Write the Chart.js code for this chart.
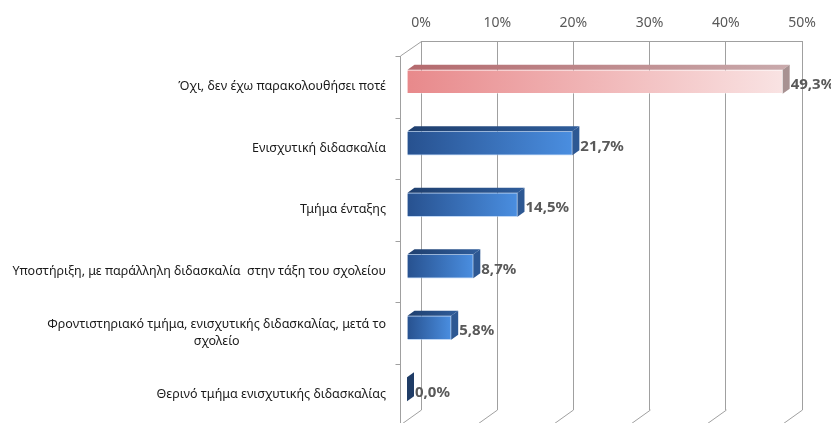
<!DOCTYPE html>
<html>
<head>
<meta charset="utf-8">
<script src="https://cdn.jsdelivr.net/npm/chart.js@4"></script>
<style>
  html, body { margin: 0; padding: 0; background: #fff; overflow: hidden; }
</style>
</head>
<body>
<canvas id="chart" width="831" height="423"></canvas>
<script>
// Κατηγορίες (από πάνω προς τα κάτω) και ποσοστά
const categories = [
  'Όχι, δεν έχω παρακολουθήσει ποτέ',
  'Ενισχυτική διδασκαλία',
  'Τμήμα ένταξης',
  'Υποστήριξη, με παράλληλη διδασκαλία  στην τάξη του σχολείου',
  ['Φροντιστηριακό τμήμα, ενισχυτικής διδασκαλίας, μετά το', 'σχολείο'],
  'Θερινό τμήμα ενισχυτικής διδασκαλίας'
];
const percentages = [49.3, 21.7, 14.5, 8.7, 5.8, 0.0];
const axisTicks = [0, 10, 20, 30, 40, 50];

// offsets of the fake 3d planes, relative to the back wall (chartArea)
const WALL = { dx: -21, dy: 15 };
const BAR_FRONT = { dx: -14, dy: 10 };
const BAR_DEPTH = { dx: 7, dy: -5 };

const GRID = '#a0a0a0';

function palette(i) {
  if (i === 0) {
    return { front: ['#e8898b', '#f9e3e3'], top: ['#b4696d', '#c9aaac'], side: '#a89191', edge: 'rgba(255,255,255,0.35)' };
  }
  if (percentages[i] === 0) {
    return { front: ['#26508f', '#26508f'], top: ['#1e416f', '#1e416f'], side: '#1f3c66', edge: 'rgba(0,0,0,0)' };
  }
  return { front: ['#27518f', '#4a8ee0'], top: ['#1f3f6e', '#2f5d9b'], side: '#2d5893', edge: 'rgba(150,190,240,0.6)' };
}

function fmt(v) {
  return v.toFixed(1).replace('.', ',') + '%';
}

const depthPlugin = {
  id: 'depth',
  beforeDatasetsDraw(chart) {
    const ctx = chart.ctx, a = chart.chartArea, xs = chart.scales.x;
    ctx.save();
    ctx.strokeStyle = GRID;
    ctx.lineWidth = 1;
    ctx.beginPath();
    // floor lines under the gridlines
    axisTicks.forEach(v => {
      const x = Math.round(xs.getPixelForValue(v)) + 0.5;
      ctx.moveTo(x, a.bottom);
      ctx.lineTo(x + WALL.dx, a.bottom + WALL.dy);
    });
    // left wall edge
    const lx = Math.round(a.left + WALL.dx) + 0.5;
    ctx.moveTo(Math.round(a.left) + 0.5, Math.round(a.top) + 0.5);
    ctx.lineTo(lx, a.top + WALL.dy);
    ctx.lineTo(lx, a.bottom + WALL.dy);
    // tick marks between categories
    const band = (a.bottom - a.top) / categories.length;
    for (let i = 0; i <= categories.length; i++) {
      const y = Math.round(a.top + WALL.dy + i * band) + 0.5;
      ctx.moveTo(lx - 5, y);
      ctx.lineTo(lx, y);
    }
    ctx.stroke();
    ctx.restore();

    // bars themselves drawn shifted to the front plane
    ctx.save();
    ctx.translate(BAR_FRONT.dx, BAR_FRONT.dy);
  },
  afterDatasetsDraw(chart) {
    const ctx = chart.ctx, a = chart.chartArea, ys = chart.scales.y;
    ctx.restore();

    const meta = chart.getDatasetMeta(0);
    meta.data.forEach((bar, i) => {
      const p = bar.getProps(['x', 'y', 'base', 'height'], true);
      const fc = palette(i);
      const x0 = p.base + BAR_FRONT.dx, x1 = p.x + BAR_FRONT.dx;
      const top = p.y - p.height / 2 + BAR_FRONT.dy, bot = p.y + p.height / 2 + BAR_FRONT.dy;
      const dx = BAR_DEPTH.dx, dy = BAR_DEPTH.dy;

      // top face
      if (x1 - x0 >= 1) {
        const g = ctx.createLinearGradient(x0, 0, x1 + dx, 0);
        g.addColorStop(0, fc.top[0]);
        g.addColorStop(1, fc.top[1]);
        ctx.fillStyle = g;
        ctx.beginPath();
        ctx.moveTo(x0, top);
        ctx.lineTo(x0 + dx, top + dy);
        ctx.lineTo(x1 + dx, top + dy);
        ctx.lineTo(x1, top);
        ctx.closePath();
        ctx.fill();
      }
      // end face
      ctx.fillStyle = fc.side;
      ctx.beginPath();
      ctx.moveTo(x1, top);
      ctx.lineTo(x1 + dx, top + dy);
      ctx.lineTo(x1 + dx, bot + dy);
      ctx.lineTo(x1, bot);
      ctx.closePath();
      ctx.fill();

      // value label
      ctx.fillStyle = '#595959';
      ctx.font = 'bold 15px "Noto Sans"';
      ctx.textAlign = 'left';
      ctx.textBaseline = 'middle';
      ctx.fillText(fmt(percentages[i]), x1 + 8, (top + bot) / 2 + 3);
    });

    // category labels, on the front plane
    ctx.font = '12.5px "Noto Sans"';
    ctx.fillStyle = '#1a1a1a';
    ctx.textAlign = 'center';
    ctx.textBaseline = 'middle';
    const right = a.left + WALL.dx - 14;
    categories.forEach((label, i) => {
      const lines = [].concat(label);
      const w = Math.max(...lines.map(l => ctx.measureText(l).width));
      const cx = right - w / 2;
      const cy = ys.getPixelForValue(i) + WALL.dy;
      lines.forEach((l, j) => ctx.fillText(l, cx, cy + (j - (lines.length - 1) / 2) * 17));
    });
  }
};

const ctx = document.getElementById('chart').getContext('2d');
const chart = new Chart(ctx, {
  type: 'bar',
  data: {
    labels: categories,
    datasets: [{
      data: percentages,
      barThickness: 24,
      borderWidth: 1,
      borderColor: c => palette(c.dataIndex).edge,
      clip: false,
      backgroundColor: c => {
        const ch = c.chart;
        const fc = palette(c.dataIndex);
        if (!ch.chartArea) return fc.front[0];
        const xs = ch.scales.x;
        const x0 = xs.getPixelForValue(0), x1 = xs.getPixelForValue(percentages[c.dataIndex]);
        if (x1 - x0 < 1) return fc.front[0];
        const g = ch.ctx.createLinearGradient(x0, 0, x1, 0);
        g.addColorStop(0, fc.front[0]);
        g.addColorStop(1, fc.front[1]);
        return g;
      }
    }]
  },
  options: {
    indexAxis: 'y',
    responsive: false,
    animation: false,
    layout: { padding: { left: 421, right: 29, top: 0, bottom: 13 } },
    plugins: {
      legend: { display: false },
      tooltip: { enabled: false }
    },
    scales: {
      x: {
        position: 'top',
        min: 0,
        max: 50,
        afterBuildTicks: s => { s.ticks = axisTicks.map(v => ({ value: v })); },
        afterFit: s => { s.height = 41; },
        grid: { color: GRID, drawTicks: false },
        border: { display: true, color: GRID },
        ticks: {
          padding: 10,
          color: '#595959',
          font: { family: 'Noto Sans', size: 14 },
          callback: v => v + '%'
        }
      },
      y: {
        display: false
      }
    }
  },
  plugins: [depthPlugin]
});
</script>
</body>
</html>
